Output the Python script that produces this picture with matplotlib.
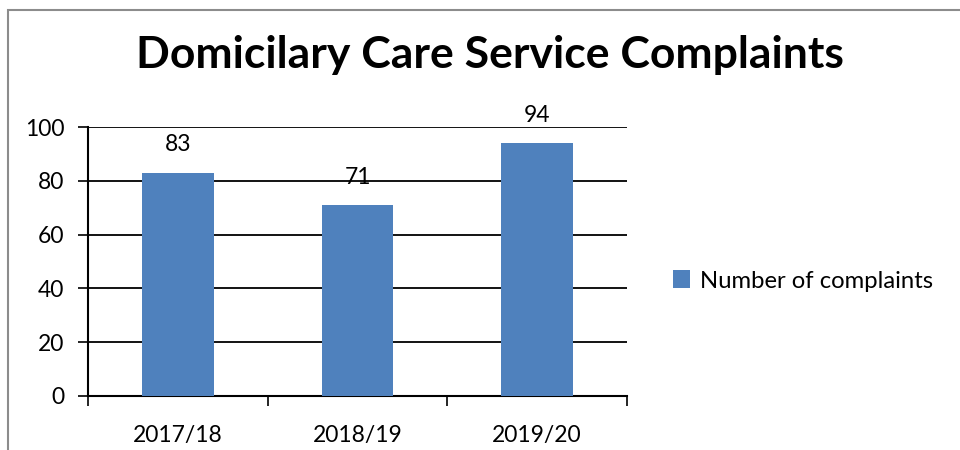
import numpy as np
import matplotlib.pyplot as plt
from matplotlib.patches import Rectangle

plt.rcParams['font.family'] = ['Lato', 'DejaVu Sans']

years = ["2017/18", "2018/19", "2019/20"]
complaints = [83, 71, 94]
series_name = "Number of complaints"
bar_color = "#4F81BD"

fig = plt.figure(figsize=(9.6, 4.5), dpi=100)
# outer chart border
fig.patches.append(Rectangle((8 / 960, -0.1), 1.1, (1 - 10 / 450) + 0.1,
                             transform=fig.transFigure, fill=False,
                             edgecolor="#8c8c8c", linewidth=1.5))

ax = fig.add_axes([88 / 960, 1 - 396 / 450, (627 - 88) / 960, (396 - 127) / 450])
x = np.arange(len(years))
bars = ax.bar(x, complaints, width=0.4, color=bar_color, label=series_name, zorder=3)

ax.set_xlim(-0.5, len(years) - 0.5)
ax.set_ylim(0, 100)
ax.set_yticks(np.arange(0, 101, 20))
ax.yaxis.grid(True, color="black", linewidth=1.3, zorder=0)
ax.set_xticks(x)
ax.set_xticklabels(years)
ax.tick_params(axis="x", length=0, labelsize=16.5, pad=21)
ax.set_xticks(np.arange(-0.5, len(years), 1), minor=True)
ax.tick_params(axis="x", which="minor", length=7, width=1.2, direction="out")
ax.tick_params(axis="y", length=7, width=1.2, labelsize=16.5, pad=10)

for s in ["top", "right"]:
    ax.spines[s].set_visible(False)
for s in ["left", "bottom"]:
    ax.spines[s].set_linewidth(1.5)

for xi, v in zip(x, complaints):
    ax.annotate(str(v), (xi, v), xytext=(0, 20), textcoords="offset points",
                ha="center", va="center", fontsize=16.5)

fig.text(490 / 960, 1 - 55 / 450, "Domicilary Care Service Complaints",
         ha="center", va="center", fontsize=32, fontweight="bold")

fig.legend(handles=[bars], labels=[series_name], loc="center left",
           bbox_to_anchor=(651 / 960, 1 - 281 / 450), frameon=False,
           fontsize=17.2, handlelength=0.75, handleheight=0.75, handletextpad=0.4)

fig.savefig("out.png", dpi=100)
